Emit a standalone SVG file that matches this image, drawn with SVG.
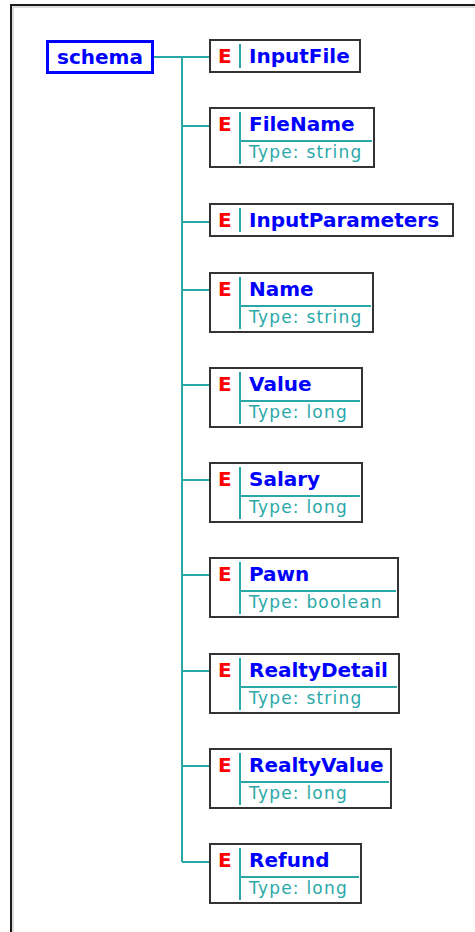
<svg xmlns="http://www.w3.org/2000/svg" width="475" height="932" viewBox="0 0 475 932">
<style>
.box{fill:#fff;stroke:#333;stroke-width:2}
.sep{stroke:#2aa8a8;stroke-width:2;fill:none}
.con{stroke:#2aa8a8;stroke-width:2;fill:none}
.e{font-family:"DejaVu Sans",Verdana,sans-serif;font-weight:bold;font-size:20px;fill:#ff0000}
.n{font-family:"DejaVu Sans",Verdana,sans-serif;font-weight:bold;font-size:20px;fill:#0000ff}
.t{font-family:"DejaVu Sans",Verdana,sans-serif;font-size:17px;letter-spacing:1.2px;fill:#2aa8a8}
</style>
<rect x="0" y="0" width="475" height="932" fill="#fff"/>
<path d="M11 932 V5 H475" fill="none" stroke="#1a1a1a" stroke-width="2"/>
<path d="M13 932 V7 H475" fill="none" stroke="#bbb" stroke-width="1"/>
<g id="connectors">
<path class="con" d="M154 57 H210 M182 57 V862"/>
<path class="con" d="M182 126 H210 M182 222 H210 M182 290 H210 M182 385 H210 M182 480 H210 M182 575 H210 M182 671 H210 M182 766 H210 M182 862 H210"/>
</g>
<g id="schema">
<rect x="47.5" y="41.5" width="105" height="31" fill="#fff" stroke="#0000ff" stroke-width="3"/>
<text class="n" x="57" y="64">schema</text>
</g>
<g id="InputFile">
<rect class="box" x="210" y="40" width="150" height="32"/>
<text class="e" x="218" y="63">E</text>
<line class="sep" x1="240" y1="44" x2="240" y2="68"/>
<text class="n" x="249" y="63">InputFile</text>
</g>
<g id="FileName">
<rect class="box" x="210" y="108" width="164" height="59"/>
<text class="e" x="218" y="131">E</text>
<line class="sep" x1="240" y1="112" x2="240" y2="164"/>
<text class="n" x="249" y="131">FileName</text>
<line class="sep" x1="241" y1="141" x2="372" y2="141"/>
<text class="t" x="249" y="158">Type: string</text>
</g>
<g id="InputParameters">
<rect class="box" x="210" y="204" width="243" height="32"/>
<text class="e" x="218" y="227">E</text>
<line class="sep" x1="240" y1="208" x2="240" y2="232"/>
<text class="n" x="249" y="227">InputParameters</text>
</g>
<g id="Name">
<rect class="box" x="210" y="273" width="163" height="59"/>
<text class="e" x="218" y="296">E</text>
<line class="sep" x1="240" y1="277" x2="240" y2="329"/>
<text class="n" x="249" y="296">Name</text>
<line class="sep" x1="241" y1="306" x2="371" y2="306"/>
<text class="t" x="249" y="323">Type: string</text>
</g>
<g id="Value">
<rect class="box" x="210" y="368" width="152" height="59"/>
<text class="e" x="218" y="391">E</text>
<line class="sep" x1="240" y1="372" x2="240" y2="424"/>
<text class="n" x="249" y="391">Value</text>
<line class="sep" x1="241" y1="401" x2="360" y2="401"/>
<text class="t" x="249" y="418">Type: long</text>
</g>
<g id="Salary">
<rect class="box" x="210" y="463" width="152" height="59"/>
<text class="e" x="218" y="486">E</text>
<line class="sep" x1="240" y1="467" x2="240" y2="519"/>
<text class="n" x="249" y="486">Salary</text>
<line class="sep" x1="241" y1="496" x2="360" y2="496"/>
<text class="t" x="249" y="513">Type: long</text>
</g>
<g id="Pawn">
<rect class="box" x="210" y="558" width="188" height="59"/>
<text class="e" x="218" y="581">E</text>
<line class="sep" x1="240" y1="562" x2="240" y2="614"/>
<text class="n" x="249" y="581">Pawn</text>
<line class="sep" x1="241" y1="591" x2="396" y2="591"/>
<text class="t" x="249" y="608">Type: boolean</text>
</g>
<g id="RealtyDetail">
<rect class="box" x="210" y="654" width="189" height="59"/>
<text class="e" x="218" y="677">E</text>
<line class="sep" x1="240" y1="658" x2="240" y2="710"/>
<text class="n" x="249" y="677">RealtyDetail</text>
<line class="sep" x1="241" y1="687" x2="397" y2="687"/>
<text class="t" x="249" y="704">Type: string</text>
</g>
<g id="RealtyValue">
<rect class="box" x="210" y="749" width="181" height="59"/>
<text class="e" x="218" y="772">E</text>
<line class="sep" x1="240" y1="753" x2="240" y2="805"/>
<text class="n" x="249" y="772">RealtyValue</text>
<line class="sep" x1="241" y1="782" x2="389" y2="782"/>
<text class="t" x="249" y="799">Type: long</text>
</g>
<g id="Refund">
<rect class="box" x="210" y="844" width="151" height="59"/>
<text class="e" x="218" y="867">E</text>
<line class="sep" x1="240" y1="848" x2="240" y2="900"/>
<text class="n" x="249" y="867">Refund</text>
<line class="sep" x1="241" y1="877" x2="359" y2="877"/>
<text class="t" x="249" y="894">Type: long</text>
</g>
</svg>
